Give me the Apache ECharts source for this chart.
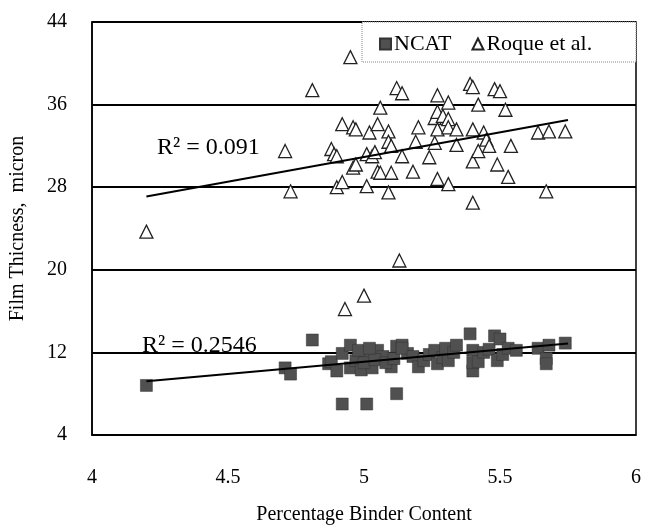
<!DOCTYPE html>
<html><head><meta charset="utf-8">
<script src="https://cdn.jsdelivr.net/npm/echarts@6/dist/echarts.min.js"></script>
<style>html,body{margin:0;padding:0;background:#fff}#c{width:652px;height:530px}</style>
</head><body><div id="c"></div>
<script>
const seriesNames = ['NCAT', 'Roque et al.'];
const ncat = [
  [4.20,8.8],[4.71,10.5],[4.73,9.9],[4.81,13.2],
  [4.87,10.9],[4.88,11.1],[4.90,10.2],[4.92,11.9],[4.95,12.7],[4.95,10.5],[4.97,11.2],[4.99,10.3],
  [5.01,11.7],[5.03,10.5],[5.05,12.2],[5.07,11.6],[5.10,10.6],[5.12,12.6],[5.14,12.7],[5.16,11.9],
  [4.92,7.0],[5.01,7.0],[5.12,8.0],
  [5.00,11.0],[5.04,11.3],[5.08,11.0],[5.11,11.4],[4.98,12.2],[5.02,12.4],
  [5.14,12.4],[5.18,11.6],[5.20,10.6],[5.22,11.2],[5.24,11.8],[5.26,12.2],[5.27,10.9],[5.29,11.5],
  [5.31,11.2],[5.30,12.4],[5.33,12.0],[5.34,12.7],
  [5.39,13.8],[5.40,12.2],[5.40,10.2],[5.40,11.0],[5.42,11.1],[5.44,12.0],[5.46,12.3],
  [5.48,13.6],[5.50,13.3],[5.49,11.2],[5.51,11.8],[5.53,12.4],[5.56,12.2],
  [5.64,12.4],[5.67,11.4],[5.67,10.9],[5.68,12.7],[5.74,12.9]
];
const roque = [
  [4.20,23.7],[4.71,31.5],[4.73,27.6],[4.81,37.4],
  [4.88,31.7],[4.89,31.2],[4.90,31.0],[4.90,28.0],[4.92,28.5],[4.92,34.1],[4.93,16.2],
  [4.95,40.6],[4.96,33.8],[4.97,33.6],[4.96,29.9],[4.97,30.2],[5.00,17.5],
  [5.01,28.1],[5.01,31.2],[5.02,33.3],[5.03,31.0],[5.04,31.4],[5.05,29.5],[5.05,34.1],[5.06,35.7],
  [5.06,29.4],[5.09,33.4],[5.09,32.4],[5.10,32.0],[5.10,29.4],[5.09,27.5],[5.12,37.6],[5.14,37.1],
  [5.13,20.9],[5.14,31.0],[5.18,29.5],[5.19,32.4],[5.20,33.8],[5.24,30.9],
  [5.26,32.3],[5.26,34.7],[5.27,35.3],[5.27,33.6],[5.27,36.9],[5.27,28.8],[5.29,34.9],
  [5.31,36.2],[5.31,34.6],[5.31,33.8],[5.31,28.3],[5.34,33.6],[5.34,32.1],
  [5.39,38.0],[5.40,37.7],[5.40,33.6],[5.40,30.5],[5.40,26.5],[5.42,36.0],[5.42,31.5],
  [5.44,33.3],[5.45,32.6],[5.46,32.0],
  [5.48,37.5],[5.50,37.3],[5.49,30.2],[5.52,35.5],[5.53,29.0],[5.54,32.0],
  [5.64,33.3],[5.67,27.6],[5.68,33.4],[5.74,33.4]
];
const ncatTrend = [[4.2,9.2],[5.75,12.87]];
const roqueTrend = [[4.2,27.1],[5.75,34.5]];
const r2Texts = ['R\u00B2 = 0.091', 'R\u00B2 = 0.2546'];
const xTitle = 'Percentage Binder Content';
const yTitle = 'Film Thicness,  micron';

const FONT = '"Liberation Serif", "DejaVu Serif", serif';
const chart = echarts.init(document.getElementById('c'));
chart.setOption({
  animation: false,
  backgroundColor: '#fff',
  grid: { left: 90, right: 16, top: 22, bottom: 93, show: true, borderColor: '#000', borderWidth: 1.5 },
  xAxis: {
    type: 'value', min: 4, max: 6, interval: 0.5,
    name: xTitle, nameLocation: 'middle', nameGap: 70,
    nameTextStyle: { fontFamily: FONT, fontSize: 20, color: '#000' },
    axisLine: { show: true, lineStyle: { color: '#000', width: 1.5 } },
    axisTick: { show: false },
    splitLine: { show: false },
    axisLabel: { fontFamily: FONT, fontSize: 20, color: '#000', margin: 33 }
  },
  yAxis: {
    type: 'value', min: 4, max: 44, interval: 8,
    name: yTitle, nameLocation: 'middle', nameGap: 64,
    nameTextStyle: { fontFamily: FONT, fontSize: 20, color: '#000' },
    axisLine: { show: true, lineStyle: { color: '#000', width: 1.5 } },
    axisTick: { show: false },
    splitLine: { show: true, lineStyle: { color: '#000', width: 2 } },
    axisLabel: { fontFamily: FONT, fontSize: 20, color: '#000', margin: 25 }
  },
  legend: {
    left: 374, top: 28, z: 20,
    itemGap: 20, itemWidth: 11, itemHeight: 11,
    textStyle: { fontFamily: FONT, fontSize: 22, color: '#000', padding: [0,0,0,-2] },
    data: [{ name: seriesNames[0], icon: 'rect' }, { name: seriesNames[1], icon: 'triangle' }]
  },
  graphic: [
    { type: 'rect', z: 15, shape: { x: 362, y: 22, width: 274, height: 40 },
      style: { fill: '#fff', stroke: '#888', lineWidth: 1, lineDash: [1, 1] } },
    { type: 'text', z: 20, left: 157, top: 136,
      style: { text: r2Texts[0], fontFamily: FONT, fontSize: 24, fill: '#000' } },
    { type: 'text', z: 20, left: 142, top: 334,
      style: { text: r2Texts[1], fontFamily: FONT, fontSize: 24, fill: '#000' } }
  ],
  series: [
    { name: seriesNames[0], type: 'scatter', data: ncat, symbol: 'rect', symbolSize: 12,
      itemStyle: { color: '#505050', borderColor: '#333', borderWidth: 0.5, opacity: 1 }, z: 3 },
    { name: seriesNames[1], type: 'scatter', data: roque, symbol: 'triangle', symbolSize: 13,
      itemStyle: { color: '#fff', borderColor: '#222', borderWidth: 1.3, opacity: 1 }, z: 3 },
    { type: 'line', data: ncatTrend, symbol: 'none', lineStyle: { color: '#000', width: 2 }, z: 4, silent: true },
    { type: 'line', data: roqueTrend, symbol: 'none', lineStyle: { color: '#000', width: 2 }, z: 4, silent: true }
  ]
});
</script></body></html>
